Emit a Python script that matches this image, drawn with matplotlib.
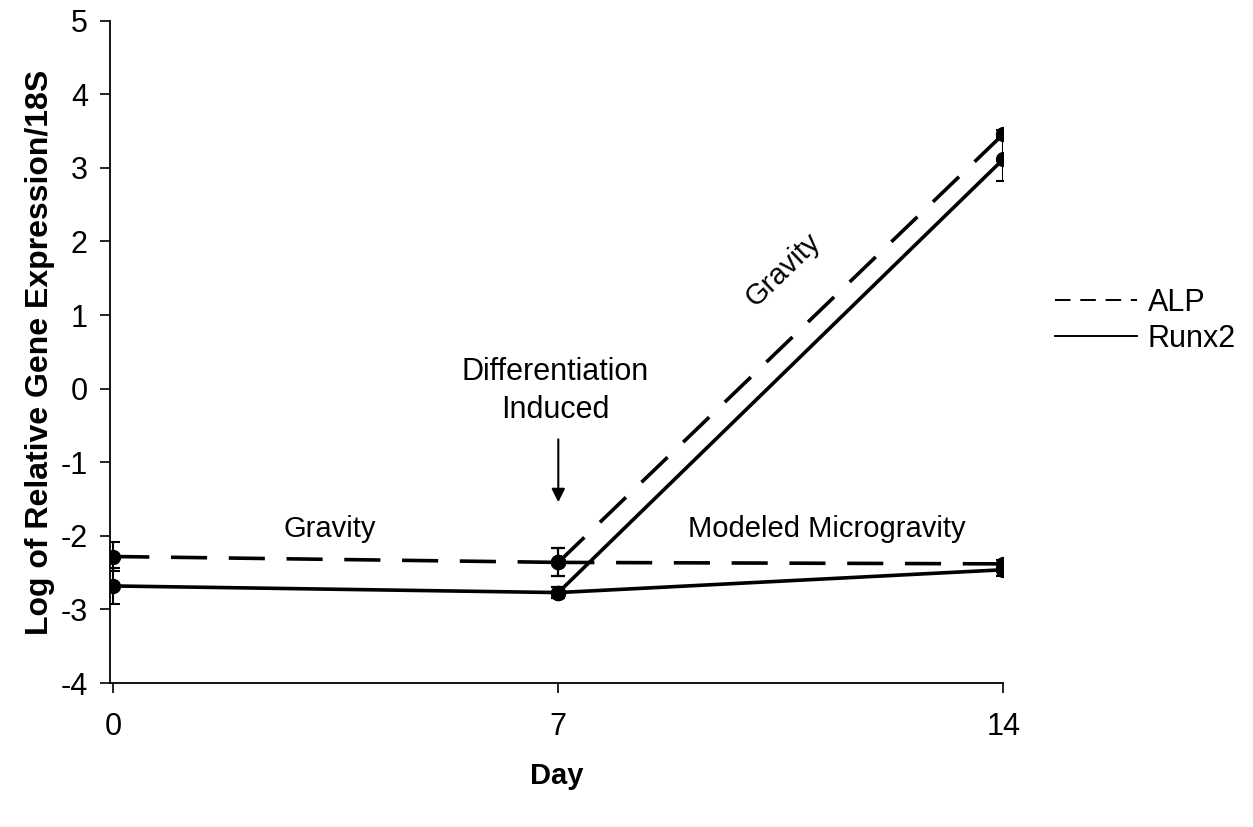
import matplotlib
matplotlib.use("Agg")
import matplotlib.pyplot as plt
from matplotlib.lines import Line2D
import numpy as np

plt.rcParams['font.family'] = ['Liberation Sans', 'DejaVu Sans']
plt.rcParams['axes.unicode_minus'] = False

# days 0 -> 7 (before induction), then branch at day 7
days_pre = [0, 7]
alp_pre = [-2.28, -2.36]
alp_pre_err = [0.2, 0.19]
runx2_pre = [-2.68, -2.77]
runx2_pre_err = [0.25, 0.08]

days_post = [7, 14]
alp_grav = [-2.36, 3.46]
alp_grav_err = [0.19, 0.06]
runx2_grav = [-2.77, 3.12]
runx2_grav_err = [0.08, 0.3]
alp_micro = [-2.36, -2.38]
alp_micro_err = [0.19, 0.05]
runx2_micro = [-2.77, -2.46]
runx2_micro_err = [0.08, 0.08]

yticks = list(range(-4, 6))
xticks = [0, 7, 14]

fig = plt.figure(figsize=(12.53, 8.27), dpi=100)
ax = fig.add_axes([0.0878, 0.174, 0.713, 0.801])

lw = 2.6
dash = (10, 6)
kw = dict(color='black', lw=lw, marker='o', ms=10, capsize=5, elinewidth=1.5, capthick=1.5)

ax.errorbar(days_pre, alp_pre, yerr=alp_pre_err, dashes=dash, **kw)
ax.errorbar(days_pre, runx2_pre, yerr=runx2_pre_err, **kw)
ax.errorbar(days_post, alp_grav, yerr=alp_grav_err, dashes=dash, **kw)
ax.errorbar(days_post, runx2_grav, yerr=runx2_grav_err, **kw)
ax.errorbar(days_post, alp_micro, yerr=alp_micro_err, dashes=dash, **kw)
ax.errorbar(days_post, runx2_micro, yerr=runx2_micro_err, **kw)

ax.set_xlim(-0.05, 14)
ax.set_ylim(-4, 5)
ax.set_xticks(xticks)
ax.set_yticks(yticks)
ax.tick_params(axis='both', labelsize=22, direction='out', length=7, width=1.2)
ax.tick_params(axis='y', pad=9)
ax.tick_params(axis='x', pad=14)
ax.spines['top'].set_visible(False)
ax.spines['right'].set_visible(False)
for s in ['left', 'bottom']:
    ax.spines[s].set_linewidth(1.3)

ax.set_ylabel('Log of Relative Gene Expression/18S', fontsize=23, fontweight='bold', labelpad=4)
ax.set_xlabel('Day', fontsize=21, fontweight='bold', labelpad=14)

ax.text(3.4, -1.9, 'Gravity', fontsize=21, ha='center', va='center')
ax.text(11.23, -1.9, 'Modeled Microgravity', fontsize=21, ha='center', va='center')
ax.text(10.53, 1.62, 'Gravity', fontsize=21, ha='center', va='center', rotation=44)
ax.text(6.95, -0.03, 'Differentiation\nInduced', fontsize=22, ha='center', va='center',
        linespacing=1.35)
ax.annotate('', xy=(7.0, -1.58), xytext=(7.0, -0.65),
            arrowprops=dict(arrowstyle='-|>', color='black', lw=1.5, mutation_scale=20))

handles = [Line2D([], [], color='black', lw=1.4, dashes=(8, 5)),
           Line2D([], [], color='black', lw=1.4)]
fig.legend(handles, ['ALP', 'Runx2'], loc='center left', bbox_to_anchor=(0.82, 0.612),
           frameon=False, fontsize=22, handlelength=2.7, handletextpad=0.33, labelspacing=0.2)

fig.savefig('out.png', dpi=100)
